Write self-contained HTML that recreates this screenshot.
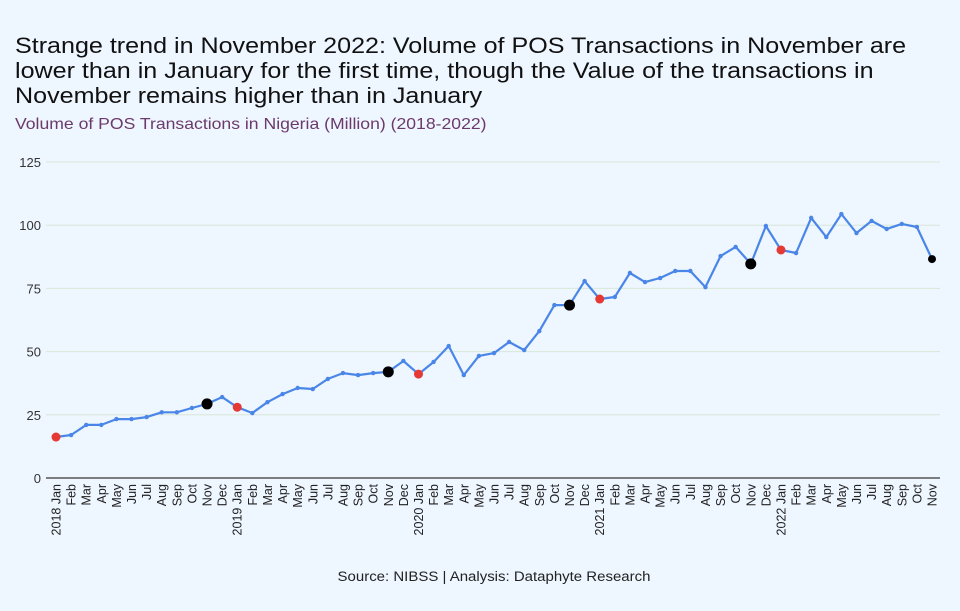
<!DOCTYPE html>
<html><head><meta charset="utf-8"><style>
body{margin:0;background:#eef6ff;font-family:"Liberation Sans",Arial,sans-serif;}
#wrap{position:relative;width:960px;height:611px;background:#eef6ff;overflow:hidden}
h1{position:absolute;left:15px;top:33px;margin:0;font-size:22.5px;font-weight:normal;line-height:25px;color:#111;white-space:nowrap;transform:scaleX(1.115);transform-origin:0 0}
.sub{position:absolute;left:15px;top:116px;font-size:16px;color:#6b3a6a;white-space:nowrap;transform:scaleX(1.1);transform-origin:0 0}
.src{position:absolute;left:14px;width:960px;top:569px;text-align:center;font-size:13.5px;color:#222;transform:scaleX(1.11);transform-origin:480px 0}
</style></head><body>
<div id="wrap">
<h1>Strange trend in November 2022: Volume of POS Transactions in November are<br>lower than in January for the first time, though the Value of the transactions in<br>November remains higher than in January</h1>
<div class="sub">Volume of POS Transactions in Nigeria (Million) (2018-2022)</div>
<svg id="chart" width="960" height="611" style="position:absolute;left:0;top:0"></svg>
<div class="src">Source: NIBSS | Analysis: Dataphyte Research</div>
</div>
<script>
const months=["Jan","Feb","Mar","Apr","May","Jun","Jul","Aug","Sep","Oct","Nov","Dec"];
const years=[2018,2019,2020,2021,2022];
const values=[16.2,17,21,21,23.3,23.3,24.1,26,26,27.7,29.3,32,
28,25.7,30,33.2,35.6,35.2,39.2,41.5,40.7,41.5,42,46.3,
41.1,45.9,52.2,40.7,48.3,49.4,53.8,50.6,58.1,68.4,68.4,77.9,
70.8,71.6,81.1,77.5,79.1,81.9,81.9,75.5,87.8,91.4,84.7,99.7,
90.2,89,102.9,95.3,104.4,96.9,101.7,98.5,100.5,99.3,86.6];
const yTicks=[0,25,50,75,100,125];
const NS="http://www.w3.org/2000/svg";
const svg=document.getElementById('chart');
const x0=56,x1=932,yBase=478,yTop=162,yMax=125;
const n=values.length;
function xs(i){return x0+(x1-x0)*i/(n-1);}
function ys(v){return yBase-(yBase-yTop)*v/yMax;}
function mk(t,a){const e=document.createElementNS(NS,t);for(const k in a)e.setAttribute(k,a[k]);svg.appendChild(e);return e;}
yTicks.forEach(t=>{
  const l=mk('line',{x1:46,x2:940,y1:ys(t),y2:ys(t),stroke:t===0?'#555':'#d8e8d6','stroke-width':t===0?1.5:1});
  
  
  const tx=mk('text',{x:41,y:ys(t)+5,'text-anchor':'end','font-size':13,fill:'#333'});
  tx.textContent=t;
  
  
});
for(let i=0;i<n;i++){
  const m=months[i%12];
  const lab=(i%12===0?years[Math.floor(i/12)]+' ':'')+m;
  const tx=mk('text',{transform:`translate(${xs(i)+4.5},484) rotate(-90)`,'text-anchor':'end','font-size':12.5,fill:'#222'});
  tx.textContent=lab;
  
  
}
const pts=values.map((v,i)=>xs(i).toFixed(1)+','+ys(v).toFixed(1)).join(' ');
const line=mk('polyline',{points:pts,fill:'none',stroke:'#4a86e8','stroke-width':2.2,'stroke-linejoin':'round'});


values.forEach((v,i)=>{
  const mi=i%12;let r=2.2,f='#4a86e8';
  if(mi===0){r=4.5;f='#e53935';}
  if(mi===10){r=i===n-1?4:5.5;f='#000';}
  const c=mk('circle',{cx:xs(i),cy:ys(v),r:r,fill:f});
  
  
});
</script>
</body></html>
